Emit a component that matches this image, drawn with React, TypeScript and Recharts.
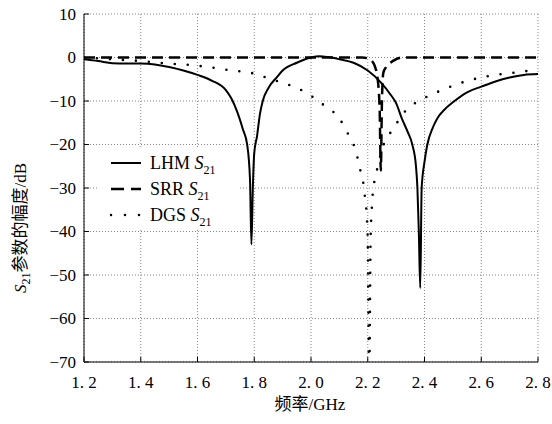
import React from 'react';
import { LineChart, Line, XAxis, YAxis, CartesianGrid } from 'recharts';

const FONT = '"Liberation Serif", "Noto Sans CJK SC", serif';

// axis ticks
const xTicks = [1.2, 1.4, 1.6, 1.8, 2.0, 2.2, 2.4, 2.6, 2.8];
const xTickLabels = ['1. 2', '1. 4', '1. 6', '1. 8', '2. 0', '2. 2', '2. 4', '2. 6', '2. 8'];
const yTicks = [10, 0, -10, -20, -30, -40, -50, -60, -70];
const yTickLabels = ['10', '0', '\u221210', '\u221220', '\u221230', '\u221240', '\u221250', '\u221260', '\u221270'];

// LHM S21 (solid)
const lhmFreq = [1.2, 1.25, 1.3, 1.35, 1.4, 1.45, 1.5, 1.55, 1.6, 1.65, 1.7, 1.72, 1.74, 1.76, 1.775, 1.785, 1.79, 1.795, 1.8, 1.81, 1.82, 1.83, 1.85, 1.88, 1.9, 1.95, 2.0, 2.03, 2.06, 2.1, 2.15, 2.2, 2.25, 2.28, 2.3, 2.32, 2.34, 2.357, 2.37, 2.375, 2.38, 2.385, 2.39, 2.4, 2.41, 2.43, 2.445, 2.47, 2.5, 2.55, 2.6, 2.65, 2.7, 2.75, 2.8];
const lhmS21 = [-0.4, -0.8, -1.3, -1.4, -1.4, -1.6, -2.2, -3, -4, -5.3, -7.5, -9.5, -12.5, -16.5, -20, -28, -43, -30, -22, -18, -13, -10, -7, -4.5, -3, -1.2, 0, 0.3, 0.1, -0.4, -1.2, -3, -6, -8.5, -10.5, -14, -17, -20, -25, -30, -40, -53, -30, -24, -20, -16, -14, -12, -10.3, -8, -6.7, -5.5, -4.6, -4.0, -3.8];

// SRR S21 (dashed)
const srrFreq = [1.2, 1.4, 1.6, 1.8, 2.0, 2.18, 2.2, 2.215, 2.225, 2.235, 2.242, 2.246, 2.25, 2.255, 2.265, 2.28, 2.3, 2.32, 2.5, 2.8];
const srrS21 = [0, 0, 0, 0, 0, 0, -0.2, -0.8, -2, -5, -12, -26, -10, -3.5, -2.2, -1.2, -0.4, 0, 0, 0];

// DGS S21 (dotted)
const dgsFreq = [1.2, 1.25, 1.3, 1.35, 1.4, 1.45, 1.5, 1.55, 1.6, 1.65, 1.7, 1.75, 1.8, 1.85, 1.9, 1.95, 2.0, 2.05, 2.1, 2.13, 2.15, 2.163, 2.173, 2.184, 2.19, 2.196, 2.2, 2.205, 2.21, 2.214, 2.218, 2.225, 2.233, 2.255, 2.276, 2.3, 2.33, 2.36, 2.4, 2.45, 2.5, 2.55, 2.6, 2.65, 2.7, 2.75, 2.8];
const dgsS21 = [0, -0.2, -0.4, -0.6, -0.8, -1.1, -1.4, -1.6, -1.9, -2.3, -2.8, -3.2, -3.7, -4.8, -5.8, -7, -8.8, -11.2, -14, -17.5, -20, -22.8, -25.7, -28.7, -32, -36, -42, -75, -42, -35, -31, -28, -25.7, -20.2, -17.7, -15.3, -12.5, -10.8, -9.3, -7.8, -6.5, -5.4, -4.6, -4, -3.6, -3.2, -2.8];

const toPoints = (f: number[], v: number[]) => f.map((x, i) => ({ f: x, v: v[i] }));

const series = [
  { name: 'LHM', data: toPoints(lhmFreq, lhmS21), width: 2, dash: undefined as string | undefined, cap: 'butt', legendDash: undefined as string | undefined },
  { name: 'SRR', data: toPoints(srrFreq, srrS21), width: 2.5, dash: '11 6', cap: 'butt', legendDash: '13 7' },
  { name: 'DGS', data: toPoints(dgsFreq, dgsS21), width: 2.6, dash: '0 13', cap: 'round', legendDash: '0 14' },
];

const XTick = (props: any) => {
  const { x, y, payload } = props;
  const i = xTicks.indexOf(payload.value);
  return (
    <g>
      <line x1={x} x2={x} y1={y} y2={y - 5} stroke="#000" />
      <text x={x} y={y + 20} dy="0.35em" textAnchor="middle" fontFamily={FONT} fontSize={17} fill="#000">
        {xTickLabels[i]}
      </text>
    </g>
  );
};

const YTick = (props: any) => {
  const { x, y, payload } = props;
  const i = yTicks.indexOf(payload.value);
  return (
    <g>
      <line x1={x} x2={x + 5} y1={y} y2={y} stroke="#000" />
      <text x={x - 8} y={y} dy="0.35em" textAnchor="end" fontFamily={FONT} fontSize={17} fill="#000">
        {yTickLabels[i]}
      </text>
    </g>
  );
};

const TopTick = (props: any) => {
  const { x, y } = props;
  return <line x1={x} x2={x} y1={y} y2={y + 5} stroke="#000" />;
};

const RightTick = (props: any) => {
  const { x, y } = props;
  return <line x1={x} x2={x - 5} y1={y} y2={y} stroke="#000" />;
};

const YTitle = () => (
  <text transform="translate(26,228) rotate(-90)" textAnchor="middle" fontFamily={FONT} fontSize={17} fill="#000">
    <tspan fontStyle="italic">S</tspan>
    <tspan fontSize={12} dy={4}>21</tspan>
    <tspan dy={-4}>参数的幅度/dB</tspan>
  </text>
);

const XTitle = () => (
  <text x={310} y={410} textAnchor="middle" fontFamily={FONT} fontSize={17} fill="#000">
    频率/GHz
  </text>
);

export default function App() {
  return (
    <div style={{ position: 'absolute', left: 0, top: 0, width: 552, height: 424, background: '#fff' }}>
      <LineChart width={552} height={424} margin={{ top: 14, right: 14, bottom: 0, left: 0 }}>
        <CartesianGrid stroke="#888" strokeDasharray="1 2" />
        <XAxis
          dataKey="f"
          type="number"
          domain={[1.2, 2.8]}
          ticks={xTicks}
          height={62}
          tickSize={0}
          tickMargin={0}
          tick={<XTick />}
          axisLine={{ stroke: '#000' }}
          allowDataOverflow
          label={<XTitle />}
        />
        <XAxis
          xAxisId="top"
          orientation="top"
          type="number"
          domain={[1.2, 2.8]}
          ticks={xTicks}
          height={0}
          tickSize={0}
          tickMargin={0}
          tick={<TopTick />}
          axisLine={{ stroke: '#000' }}
        />
        <YAxis
          type="number"
          domain={[-70, 10]}
          ticks={yTicks}
          width={84}
          tickSize={0}
          tickMargin={0}
          tick={<YTick />}
          axisLine={{ stroke: '#000' }}
          allowDataOverflow
          label={<YTitle />}
        />
        <YAxis
          yAxisId="right"
          orientation="right"
          type="number"
          domain={[-70, 10]}
          ticks={yTicks}
          width={0}
          tickSize={0}
          tickMargin={0}
          tick={<RightTick />}
          axisLine={{ stroke: '#000' }}
        />
        {series.map((s) => (
          <Line
            key={s.name}
            data={s.data}
            dataKey="v"
            type="monotone"
            stroke="#000"
            strokeWidth={s.width}
            strokeDasharray={s.dash}
            strokeLinecap={s.cap as any}
            dot={false}
            activeDot={false}
            isAnimationActive={false}
          />
        ))}
      </LineChart>
      <div
        style={{
          position: 'absolute',
          left: 97,
          top: 148,
          width: 142,
          height: 80,
          background: '#fff',
          fontFamily: FONT,
          fontSize: 18,
          paddingTop: 2,
          boxSizing: 'border-box',
        }}
      >
        {series.map((s) => (
          <div key={s.name} style={{ height: 26, display: 'flex', alignItems: 'center', whiteSpace: 'nowrap' }}>
            <svg width={32} height={10} style={{ marginLeft: 13, marginRight: 8 }}>
              <line
                x1={1}
                x2={31}
                y1={5}
                y2={5}
                stroke="#000"
                strokeWidth={s.width}
                strokeDasharray={s.legendDash}
                strokeLinecap={s.cap as any}
              />
            </svg>
            <span>
              {s.name} <i>S</i>
              <sub style={{ fontSize: 12, lineHeight: 0 }}>21</sub>
            </span>
          </div>
        ))}
      </div>
    </div>
  );
}
